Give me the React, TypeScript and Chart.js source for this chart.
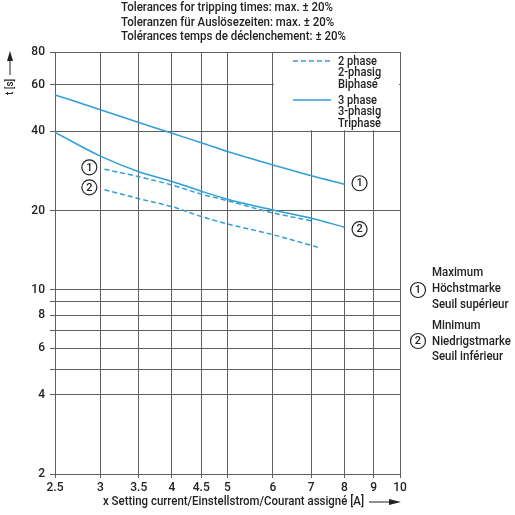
import React, { useEffect, useRef } from "react";
import { Chart, registerables } from "chart.js";

Chart.register(...registerables);

// ---- data ----
const xTicks = [2.5, 3, 3.5, 4, 4.5, 5, 6, 7, 8, 9, 10];
const yTicks = [2, 4, 5, 6, 7, 8, 9, 10, 20, 40, 60, 80];
const yLabelled = [2, 4, 6, 8, 10, 20, 40, 60, 80];

const x3phase = [2.5, 3, 3.5, 4, 4.5, 5, 6, 7, 8];
const max3phase = [55, 48.3, 43.2, 39.3, 36.2, 33.5, 29.8, 27.1, 25.2];
const min3phase = [39.6, 32.2, 28.1, 25.8, 23.7, 22.1, 20.1, 18.7, 17.3];

const x2phaseMax = [3.05, 3.5, 4, 4.5, 5, 6, 7];
const max2phase = [28.7, 26.9, 25.0, 23.1, 21.8, 19.6, 18.3];
const x2phaseMin = [3.05, 3.5, 4, 4.5, 5, 6, 7.2];
const min2phase = [24.0, 22.2, 20.7, 19.0, 17.8, 16.2, 14.5];

const headerLines = [
  "Tolerances for tripping times: max. ± 20%",
  "Toleranzen für Auslösezeiten: max. ± 20%",
  "Tolérances temps de déclenchement: ± 20%",
];
const legend2 = ["2 phase", "2-phasig", "Biphasé"];
const legend3 = ["3 phase", "3-phasig", "Triphasé"];
const noteMax = ["Maximum", "Höchstmarke", "Seuil supérieur"];
const noteMin = ["Minimum", "Niedrigstmarke", "Seuil inférieur"];
const xTitle = "x Setting current/Einstellstrom/Courant assigné [A]";
const yTitle = "t [s]";

const BLUE = "#2f9fd8";
const GRID = "#5f5f5f";
const TEXT = "#222";
const FONT = "Roboto, 'Liberation Sans', sans-serif";

const pts = (xs: number[], ys: number[]) => xs.map((x, i) => ({ x, y: ys[i] }));

// draw text condensed horizontally by factor sx
function ctext(ctx: CanvasRenderingContext2D, t: string, x: number, y: number, sx: number) {
  ctx.save();
  ctx.translate(x, y);
  ctx.scale(sx, 1);
  ctx.fillText(t, 0, 0);
  ctx.restore();
}

function circled(ctx: CanvasRenderingContext2D, cx: number, cy: number, label: string) {
  ctx.save();
  ctx.beginPath();
  ctx.arc(cx, cy, 7.5, 0, Math.PI * 2);
  ctx.fillStyle = "#fff";
  ctx.fill();
  ctx.lineWidth = 1.2;
  ctx.strokeStyle = TEXT;
  ctx.stroke();
  ctx.fillStyle = TEXT;
  ctx.font = `500 11px ${FONT}`;
  ctx.textAlign = "center";
  ctx.textBaseline = "middle";
  ctx.fillText(label, cx, cy + 0.5);
  ctx.restore();
}

const legendBoxPlugin = {
  id: "legendBox",
  beforeDatasetsDraw(chart: any) {
    const { ctx, scales } = chart;
    const x0 = scales.x.getPixelForValue(6);
    const x1 = scales.x.getPixelForValue(10);
    const y0 = scales.y.getPixelForValue(80);
    const y1 = scales.y.getPixelForValue(40);
    ctx.save();
    ctx.fillStyle = "#fff";
    ctx.fillRect(x0 + 1, y0 + 1, x1 - x0 - 2, y1 - y0 - 2);
    ctx.restore();
  },
};

const decorPlugin = {
  id: "decor",
  afterDraw(chart: any) {
    const { ctx, scales } = chart;
    const xs = scales.x;
    const ys = scales.y;
    ctx.save();
    ctx.fillStyle = TEXT;
    ctx.textBaseline = "middle";
    ctx.textAlign = "left";

    // header
    ctx.font = `500 12.5px ${FONT}`;
    const hs = 212 / ctx.measureText(headerLines[0]).width;
    headerLines.forEach((t, i) => ctext(ctx, t, 121, 8 + i * 14.5, hs));

    // legend
    ctx.strokeStyle = BLUE;
    ctx.lineWidth = 1.5;
    ctx.setLineDash([5, 3]);
    ctx.beginPath();
    ctx.moveTo(293, 61);
    ctx.lineTo(331, 61);
    ctx.stroke();
    ctx.setLineDash([]);
    ctx.beginPath();
    ctx.moveTo(293, 100);
    ctx.lineTo(331, 100);
    ctx.stroke();
    ctx.font = `500 12px ${FONT}`;
    const ls = 39 / ctx.measureText(legend2[0]).width;
    legend2.forEach((t, i) => ctext(ctx, t, 338, 62 + i * 11.3, ls));
    legend3.forEach((t, i) => ctext(ctx, t, 338, 101 + i * 11.3, ls));

    // right notes
    const ns = 79 / ctx.measureText(noteMin[1]).width;
    noteMax.forEach((t, i) => ctext(ctx, t, 432, 273 + i * 16, ns));
    noteMin.forEach((t, i) => ctext(ctx, t, 432, 326 + i * 15.5, ns));

    // x title + arrow
    ctx.font = `500 12.5px ${FONT}`;
    const xsf = 261 / ctx.measureText(xTitle).width;
    ctext(ctx, xTitle, 103, 502, xsf);
    ctx.strokeStyle = TEXT;
    ctx.lineWidth = 1;
    ctx.beginPath();
    ctx.moveTo(369, 502);
    ctx.lineTo(392, 502);
    ctx.stroke();
    ctx.beginPath();
    ctx.moveTo(401, 502);
    ctx.lineTo(389, 499);
    ctx.lineTo(389, 505);
    ctx.closePath();
    ctx.fill();

    // y title + arrow
    ctx.save();
    ctx.translate(10, 95);
    ctx.rotate(-Math.PI / 2);
    ctx.font = `500 11px ${FONT}`;
    ctx.textAlign = "left";
    ctext(ctx, yTitle, 0, 0, 0.9);
    ctx.beginPath();
    ctx.moveTo(20, 0);
    ctx.lineTo(36, 0);
    ctx.stroke();
    ctx.beginPath();
    ctx.moveTo(44, 0);
    ctx.lineTo(34, -3);
    ctx.lineTo(34, 3);
    ctx.closePath();
    ctx.fill();
    ctx.restore();

    // circled markers
    circled(ctx, xs.getPixelForValue(2.87), ys.getPixelForValue(29.2), "1");
    circled(ctx, xs.getPixelForValue(2.87), ys.getPixelForValue(24.5), "2");
    circled(ctx, xs.getPixelForValue(8.5), ys.getPixelForValue(25.4), "1");
    circled(ctx, xs.getPixelForValue(8.5), ys.getPixelForValue(17.0), "2");
    circled(ctx, 418, 290, "1");
    circled(ctx, 418, 341, "2");
    ctx.restore();
  },
};

export default function App() {
  const ref = useRef<HTMLCanvasElement | null>(null);
  useEffect(() => {
    if (!ref.current) return;
    const common = { borderColor: BLUE, borderWidth: 1.5, pointRadius: 0, cubicInterpolationMode: "monotone", fill: false };
    const chart = new Chart(ref.current, {
      type: "line",
      data: {
        datasets: [
          { label: "3 phase max", data: pts(x3phase, max3phase), ...common },
          { label: "3 phase min", data: pts(x3phase, min3phase), ...common },
          { label: "2 phase max", data: pts(x2phaseMax, max2phase), ...common, borderDash: [5, 3] },
          { label: "2 phase min", data: pts(x2phaseMin, min2phase), ...common, borderDash: [5, 3] },
        ],
      },
      options: {
        responsive: false,
        animation: false,
        devicePixelRatio: 1,
        layout: { padding: { left: 0, right: 115, top: 52, bottom: 0 } },
        plugins: { legend: { display: false }, tooltip: { enabled: false }, title: { display: false } },
        scales: {
          x: {
            type: "logarithmic",
            min: 2.5,
            max: 10,
            afterBuildTicks: (s: any) => { s.ticks = xTicks.map((v) => ({ value: v })); },
            afterFit: (s: any) => { s.height = 41; },
            grid: { color: GRID, lineWidth: 1, tickLength: 4 },
            border: { color: GRID, width: 1 },
            ticks: {
              color: TEXT,
              font: { family: FONT, size: 12, weight: "500" },
              padding: 3,
              maxRotation: 0,
              autoSkip: false,
              callback: (v: any) => String(v),
            },
          },
          y: {
            type: "logarithmic",
            min: 2,
            max: 80,
            afterBuildTicks: (s: any) => { s.ticks = yTicks.map((v) => ({ value: v })); },
            afterFit: (s: any) => { s.width = 55; },
            grid: { color: GRID, lineWidth: 1, tickLength: 5 },
            border: { color: GRID, width: 1 },
            ticks: {
              color: TEXT,
              font: { family: FONT, size: 12, weight: "500" },
              padding: 5,
              autoSkip: false,
              callback: (v: any) => (yLabelled.includes(Number(v)) ? String(v) : ""),
            },
          },
        },
      },
      plugins: [legendBoxPlugin, decorPlugin],
    } as any);
    return () => chart.destroy();
  }, []);
  return (
    <div style={{ position: "absolute", left: 0, top: 0, width: 515, height: 515, background: "#fff" }}>
      <canvas ref={ref} width={515} height={515} style={{ display: "block" }} />
    </div>
  );
}
